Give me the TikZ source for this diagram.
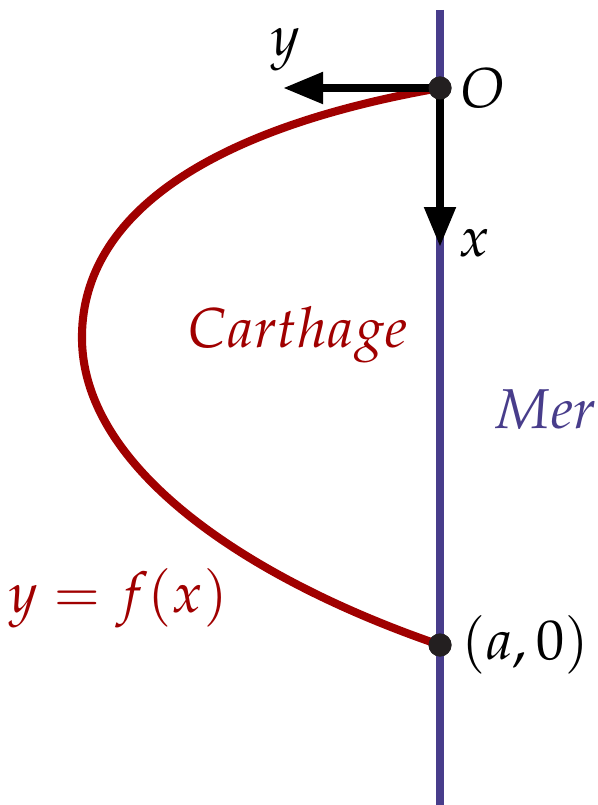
\documentclass[tikz,border=0pt]{standalone}
\usepackage{mathpazo}
\usepackage{tikz}
\usetikzlibrary{arrows.meta,positioning}
\definecolor{cmer}{HTML}{483D8B}
\definecolor{ccurve}{HTML}{A00000}
\definecolor{cdot}{HTML}{231F20}
\tikzset{
  mer/.style={draw=cmer, line width=2.3pt},
  courbe/.style={draw=ccurve, line width=2.3pt},
  axe/.style={-{Triangle[length=4mm, width=3mm]}, line width=2.3pt, draw=black},
  pt/.style={circle, fill=cdot, inner sep=0pt, minimum size=2.3mm},
  lbl/.style={font=\fontsize{16}{19}\selectfont, inner sep=1pt},
}
\begin{document}
\begin{tikzpicture}[x=0.1mm, y=-0.1mm]
\useasboundingbox (0,0) rectangle (597,805);
\coordinate (haut) at (440,10);
\coordinate (bas) at (440,805);
\coordinate (ytip) at (283,88);
\coordinate (xtip) at (440,247);
\draw[mer] (haut) -- (bas);
\node[pt] (O) at (440,88) {};
\node[pt] (A) at (440,645) {};
\draw[courbe] (O.center) .. controls (200,130) and (80,220) .. (82,340) .. controls (84,470) and (250,580) .. (A.center);
\draw[axe] (O.center) -- (ytip);
\draw[axe] (O.center) -- (xtip);
\node[pt] at (O) {};
\node[pt] at (A) {};
% textes
\node[lbl] (ylab) at (286,50) {$y$};
\node[lbl, right=0.5mm of O] (Olab) {$O$};
\node[lbl] (xlab) at (474,243) {$x$};
\node[lbl, text=ccurve] (carth) at (298,335) {$Carthage$};
\node[lbl, text=cmer] (mer) at (545,410) {$Mer$};
\node[lbl, text=ccurve] (feq) at (118,598) {$y=f(x)$};
\node[lbl, right=0.5mm of A] (Alab) {$(a,0)$};
\end{tikzpicture}
\end{document}
